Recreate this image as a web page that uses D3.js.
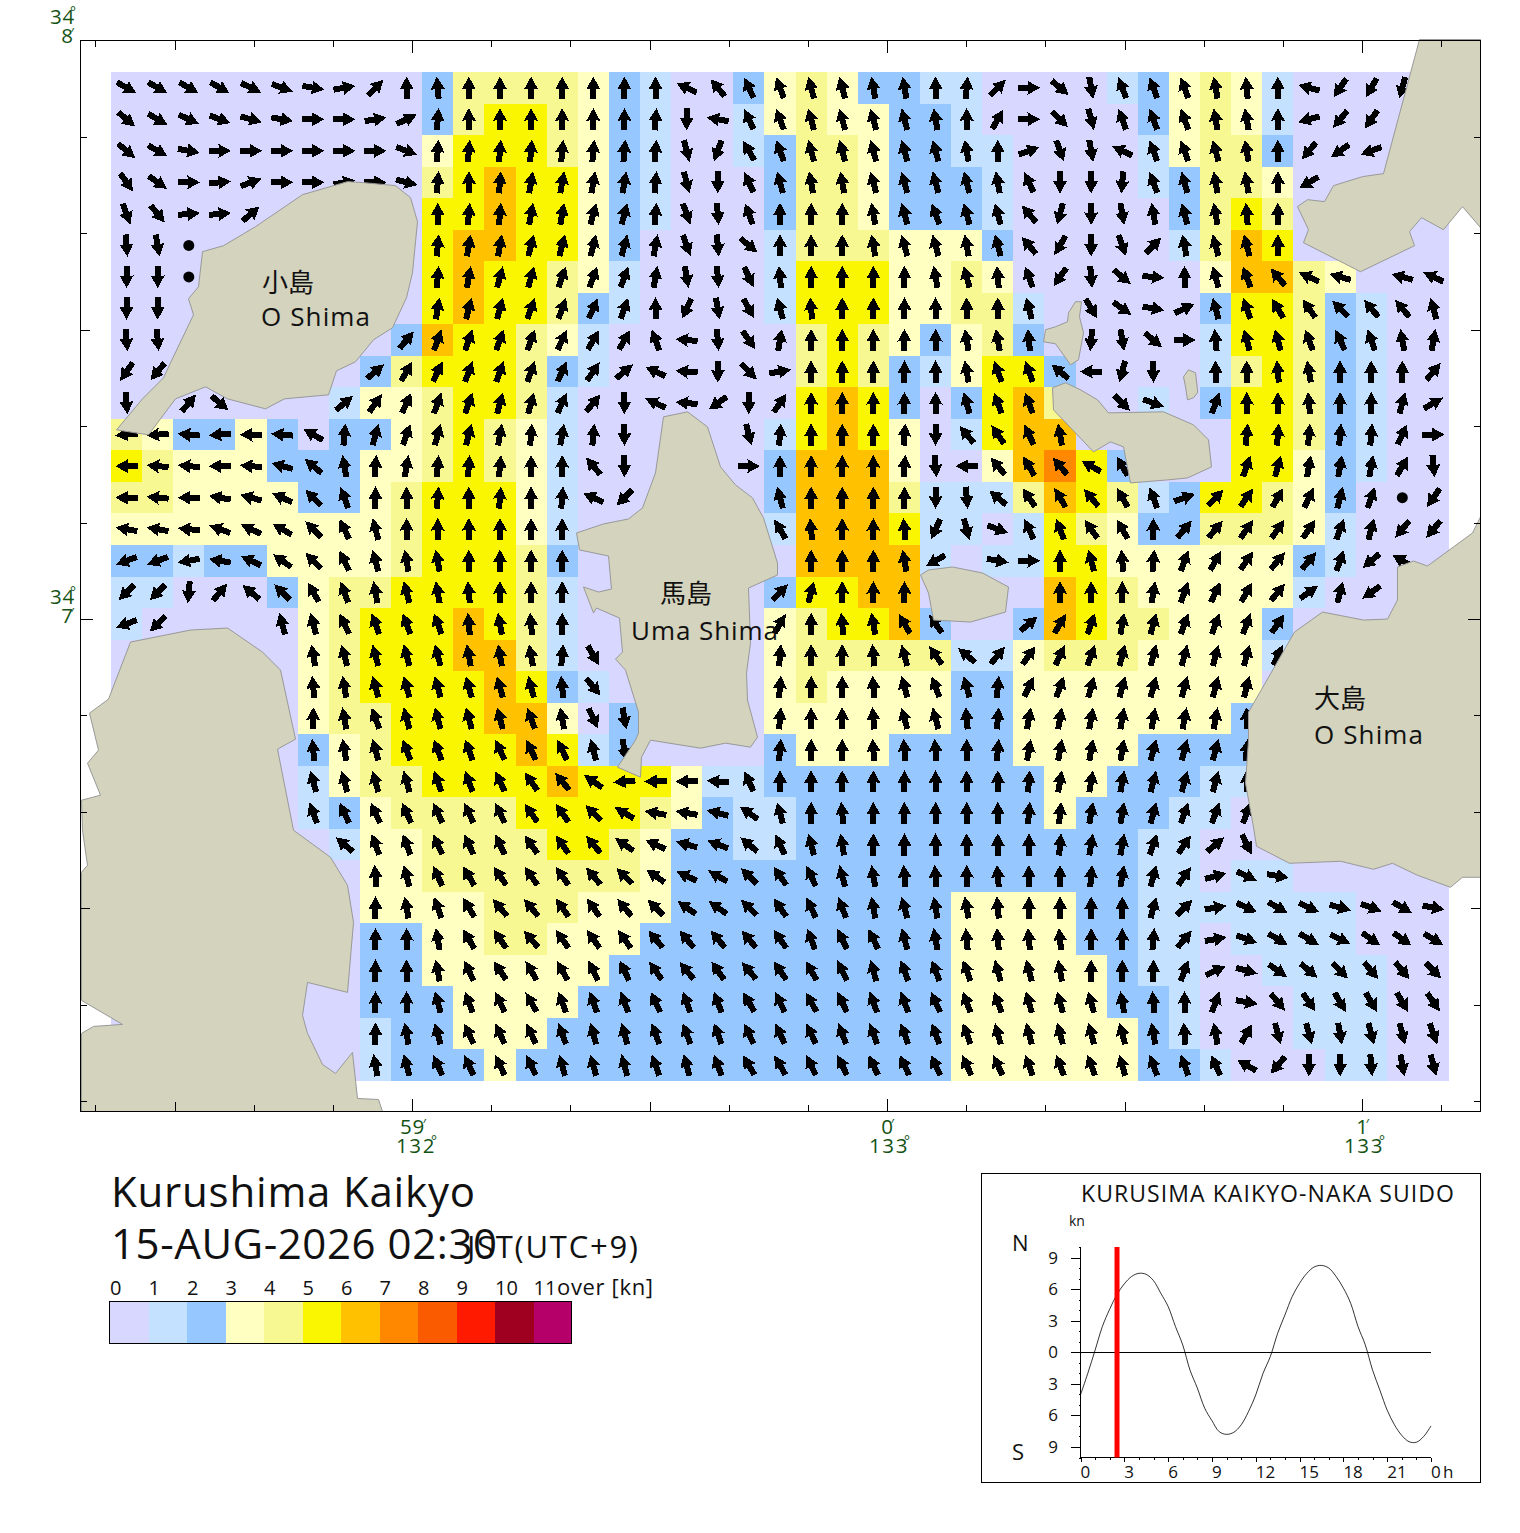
<!DOCTYPE html>
<html>
<head>
<meta charset="utf-8">
<title>Kurushima Kaikyo</title>
<script src="https://d3js.org/d3.v7.min.js"></script>
<style>
  body {margin:0; background:white;}
  svg {display:block;}
  text {font-family:"Open Sans","Noto Sans CJK JP",sans-serif; fill:#111;}
  .geo {fill:#145214;}
</style>
</head>
<body>
<svg id="chart" width="1520" height="1533"></svg>
<script>
// speed class of each cell, 43 columns, 32 rows (spaces only for reading)
const speedRows = [
  "0000000000 2444432100 2343221100 0012343100 000",
  "0000000000 2455432100 1343322100 0002343100 000",
  "0000000000 3555432100 1244322110 0001344200 000",
  "0000000000 4565532100 0244322210 0001244300 000",
  "0000000000 5565532100 0244322210 0000245400 000",
  "0000000000 5665532000 0144433320 0000146500 000",
  "0000000000 5655431000 0155533430 0000036643 000",
  "0000000000 5655421000 0155533441 0000025542 100",
  "0000000002 6554310000 0045432342 0000015542 100",
  "0000000024 5554210000 0045421355 2000014542 100",
  "0000000133 4554100000 0056520256 4001025542 100",
  "4322320223 4543100000 0156530156 6000005542 100",
  "5433322233 4543100000 0266630036 7520005532 100",
  "4433332234 5553100000 0266641114 6541255432 000",
  "3333333334 5553100000 0166651101 5432244431 000",
  "2212233334 5554200000 0066661011 5533333321 000",
  "1100023445 5554100000 0255660000 6543333310 000",
  "1000003455 5654100000 0345562002 6544333200 000",
  "0000003455 5664100000 0344444113 4443333100 000",
  "0000003455 5565210000 0343333223 3333333000 000",
  "0000003445 5566302000 0333333223 3333332000 000",
  "0000002345 5556512000 0233322223 3332222000 000",
  "0000001344 5555655531 1222222222 3322211000 000",
  "0000001234 4445555432 1122222222 3222110000 000",
  "0000000133 4444554322 1122222222 2221100000 000",
  "0000000033 4444444322 2222222222 2221101100 000",
  "0000000033 3344433322 2222222333 3221111111 000",
  "0000000022 3344333222 2222222333 3221101111 000",
  "0000000022 3333332222 2222222333 3321100111 100",
  "0000000022 2333322222 2222222333 3322100011 100",
  "0000000012 2333222222 2222222333 3332100011 100",
  "0000000012 2232222222 2222222333 3332210001 100"
]

// flow direction in degrees from north, -1 no arrow, -2 slack water dot
const directionRows = [
  [120,120,120,120,115,110,100,80,45,0, 355,0,0,0,0,0,0,0,295,320, 335,340,345,345,350,350,0,5,45,90, 130,170,340,340,340,350,355,0,285,215, 210,195,-1],
  [130,120,115,110,105,100,90,90,80,65, 5,0,0,0,0,0,0,5,180,280, 335,340,345,345,345,345,350,0,30,90, 135,165,340,340,340,350,350,0,255,220, 215,-1,-1],
  [130,120,100,90,90,90,90,90,90,110, 5,5,5,5,5,5,5,5,165,200, 330,340,345,345,345,345,345,350,0,70, 160,170,295,340,340,345,350,0,220,235, 250,-1,-1],
  [145,125,90,85,70,90,90,80,90,105, 5,0,5,10,10,10,10,5,165,180, 335,345,350,350,345,345,345,345,350,335, 180,180,185,340,345,350,350,0,240,-1, -1,-1,-1],
  [160,140,85,85,50,-1,-1,-1,-1,-1, 0,5,5,10,10,15,15,5,160,175, 340,0,0,0,350,345,340,345,345,320, 195,180,170,350,345,350,355,0,-1,-1, -1,-1,-1],
  [175,170,-2,-1,-1,-1,-1,-1,-1,-1, 5,10,10,15,15,15,15,10,160,175, 130,0,0,0,350,345,345,350,345,320, 210,180,160,45,350,345,345,0,-1,-1, -1,-1,-1],
  [180,180,-2,-1,-1,-1,-1,-1,-1,-1, 5,10,15,15,20,20,20,10,170,175, 155,355,0,0,0,0,350,345,355,340, 215,175,130,95,0,345,340,320,295,285, -1,285,295],
  [180,180,-1,-1,-1,-1,-1,-1,-1,-1, 10,15,15,20,20,25,20,0,205,170, 150,345,355,0,0,0,0,0,0,345, -1,150,125,100,65,345,340,330,325,315, 320,320,345],
  [175,175,-1,-1,-1,-1,-1,-1,-1,40, 20,20,20,20,25,30,30,340,275,175, 145,10,0,0,0,0,0,350,350,355, -1,185,170,130,90,355,345,345,340,335, 340,350,10],
  [215,220,-1,-1,-1,-1,-1,-1,50,30, 25,20,20,20,25,35,50,295,275,180, 135,80,0,0,0,0,0,350,340,340, 310,270,195,180,-1,0,0,355,350,0, 0,0,40],
  [175,-1,40,130,-1,-1,-1,50,35,25, 20,20,15,15,25,40,180,295,275,235, 180,35,0,0,0,0,0,345,340,340, -1,-1,135,110,-1,20,0,0,355,0, 0,15,60],
  [265,265,275,265,270,275,300,5,15,20, 15,15,10,5,10,5,180,-1,-1,-1, 165,5,0,0,0,5,180,320,325,335, 350,-1,-1,-1,-1,-1,5,5,5,5, 5,25,90],
  [270,275,275,270,275,285,310,350,5,10, 5,5,5,0,0,320,180,-1,-1,-1, 90,0,0,0,0,5,175,270,320,330, 320,300,330,-1,-1,-1,20,15,10,10, 10,30,175],
  [270,275,270,280,285,295,315,340,0,0, 5,0,5,0,5,295,225,-1,-1,-1, -1,345,0,0,0,0,180,175,310,325, 330,320,330,340,70,45,35,30,25,15, 20,-2,215],
  [280,280,275,290,295,300,315,335,345,0, 0,0,0,0,0,-1,-1,-1,-1,-1, -1,330,355,0,0,355,205,165,110,335, 340,325,330,0,40,40,35,35,35,20, 15,220,220],
  [250,250,260,280,295,305,315,335,345,350, 350,0,0,0,0,-1,-1,-1,-1,-1, -1,-1,0,0,0,350,240,-1,100,90, 0,345,355,5,20,30,35,40,40,20, 230,300,-1],
  [225,225,185,40,310,315,330,340,350,345, 350,355,0,0,0,-1,-1,-1,-1,-1, -1,45,15,0,0,0,-1,-1,-1,-1, 0,0,0,10,20,25,30,40,55,15, 235,-1,-1],
  [250,225,-1,-1,-1,345,345,335,340,340, 340,355,350,355,0,-1,-1,-1,-1,-1, -1,30,0,355,350,330,325,-1,-1,50, 30,20,10,15,20,20,20,35,-1,-1, -1,-1,-1],
  [-1,-1,-1,-1,-1,-1,350,345,345,345, 345,350,350,350,5,150,-1,-1,-1,-1, -1,5,0,0,355,345,325,310,40,35, 25,20,15,15,15,15,15,25,-1,-1, -1,-1,-1],
  [-1,-1,-1,-1,-1,-1,355,350,345,345, 345,345,345,345,355,140,-1,-1,-1,-1, -1,5,0,0,355,345,340,345,5,25, 20,15,15,15,15,15,15,-1,-1,-1, -1,-1,-1],
  [-1,-1,-1,-1,-1,-1,0,350,340,345, 345,345,345,340,350,155,170,-1,-1,-1, -1,5,0,0,355,345,345,355,5,10, 10,10,10,10,10,10,0,-1,-1,-1, -1,-1,-1],
  [-1,-1,-1,-1,-1,-1,355,350,345,340, 340,340,335,335,335,345,170,-1,-1,-1, -1,5,0,0,355,355,355,0,5,10, 10,10,10,15,15,15,5,-1,-1,-1, -1,-1,-1],
  [-1,-1,-1,-1,-1,-1,345,345,345,345, 340,340,335,325,320,305,265,270,270,275, 335,0,0,0,0,0,0,0,0,5, 10,10,10,15,15,15,0,-1,-1,-1, -1,-1,-1],
  [-1,-1,-1,-1,-1,-1,340,335,335,335, 335,335,335,325,325,315,300,280,280,285, 305,345,0,355,0,0,0,0,0,5, 5,10,10,15,20,20,20,-1,-1,-1, -1,-1,-1],
  [-1,-1,-1,-1,-1,-1,-1,310,340,340, 335,335,335,325,325,320,305,295,285,290, 310,335,345,350,0,0,0,0,0,0, 5,10,10,20,35,50,155,-1,-1,-1, -1,-1,-1],
  [-1,-1,-1,-1,-1,-1,-1,-1,355,345, 335,330,325,325,325,320,315,305,295,300, 315,325,335,345,350,355,355,0,355,0, 0,5,10,15,35,75,115,100,-1,-1, -1,-1,-1],
  [-1,-1,-1,-1,-1,-1,-1,-1,0,350, 340,330,320,320,325,325,320,315,305,305, 315,325,335,340,350,345,350,350,355,0, 0,0,0,15,45,80,115,120,115,105, 110,120,100],
  [-1,-1,-1,-1,-1,-1,-1,-1,0,0, 350,330,325,320,325,325,325,320,320,320, 320,325,340,335,335,345,350,355,355,355, 355,0,0,5,40,80,110,120,120,115, 125,125,120],
  [-1,-1,-1,-1,-1,-1,-1,-1,0,0, 350,335,325,330,330,335,335,325,320,325, 320,325,330,335,345,340,340,340,345,345, 350,0,0,0,20,65,105,125,130,135, 140,140,135],
  [-1,-1,-1,-1,-1,-1,-1,-1,0,0, 345,340,335,330,340,340,340,335,340,340, 330,335,330,335,340,340,335,340,340,345, 345,345,350,355,0,20,100,140,145,150, 150,150,145],
  [-1,-1,-1,-1,-1,-1,-1,-1,0,350, 345,335,335,335,340,345,345,340,340,340, 335,335,335,340,340,340,340,340,345,345, 345,345,345,350,355,350,30,165,165,170, 165,165,160],
  [-1,-1,-1,-1,-1,-1,-1,-1,350,345, 335,335,335,335,345,345,345,340,345,340, 330,330,335,335,335,335,335,335,335,340, 340,340,345,340,340,335,300,220,180,180, 175,170,165]
]

const speedColors = ["#d7d7ff","#c4e1ff","#96c8ff","#ffffc1","#f8f893","#faf500","#ffc100","#ff8800","#fa5a00","#ff1a00","#a00020","#b40068"]
const speedLabels = ["0","1","2","3","4","5","6","7","8","9","10","11"]

// land outlines, in map units
const oShimaSmall = [[347,182],[363,183],[395,186],[410,198],[417,222],[412,273],[406,298],[392,328],[373,340],[355,362],[336,371],[328,395],[284,399],[265,409],[227,399],[205,387],[175,399],[148,435],[116,430],[142,399],[163,378],[170,363],[193,315],[188,299],[198,287],[202,252],[223,246],[255,227],[302,195]]
const umaShima = [[687,412],[663,417],[655,473],[642,508],[628,519],[603,524],[576,533],[579,550],[608,556],[611,589],[598,592],[583,587],[593,613],[596,608],[619,618],[622,652],[615,659],[625,670],[638,712],[638,733],[635,740],[617,767],[640,777],[641,757],[650,740],[700,748],[725,743],[750,747],[757,737],[747,700],[746,673],[750,643],[748,588],[777,575],[777,563],[763,518],[752,498],[735,485],[720,467],[707,427]]
const isletCentre = [[920,575],[928,570],[952,567],[982,573],[1008,587],[1005,612],[970,622],[933,620],[928,593]]
const isletNorth = [[1081,302],[1075,302],[1068,313],[1067,322],[1055,327],[1045,330],[1043,342],[1055,344],[1070,365],[1078,360],[1083,333],[1079,317]]
const isletSmall = [[1188,370],[1183,377],[1185,387],[1187,400],[1193,398],[1197,393],[1197,390],[1195,373]]
const islandEast = [[1052,388],[1053,410],[1093,452],[1110,442],[1123,447],[1130,483],[1167,480],[1187,478],[1211,467],[1208,440],[1193,425],[1163,412],[1108,413],[1097,400],[1080,390],[1065,383]]
const landNorthEast = [[1419,40],[1383,174],[1362,177],[1333,186],[1324,202],[1307,200],[1297,207],[1308,230],[1303,243],[1360,272],[1414,246],[1409,232],[1421,218],[1443,230],[1462,207],[1480,228],[1480,40]]
const oShimaBig = [[1480,517],[1472,533],[1427,566],[1413,561],[1397,567],[1397,600],[1387,619],[1363,620],[1322,612],[1294,632],[1248,712],[1248,740],[1245,783],[1253,827],[1256,846],[1289,863],[1340,861],[1373,869],[1392,863],[1417,875],[1450,887],[1462,877],[1480,877]]
const landSouthWest = [[130,642],[190,630],[227,628],[262,652],[280,670],[295,739],[277,749],[293,830],[330,857],[347,885],[353,922],[347,992],[307,982],[302,1015],[307,1033],[322,1064],[335,1073],[352,1052],[357,1098],[378,1099],[382,1111],[81,1111],[81,1033],[93,1026],[122,1024],[81,1000],[81,872],[87,865],[82,830],[81,800],[100,795],[87,763],[98,750],[89,713],[108,699]]
const landShapes = [oShimaSmall, umaShima, isletCentre, isletNorth, isletSmall, islandEast, landNorthEast, oShimaBig, landSouthWest]

// tidal stream at the station, one value every half hour from 0h to 24h
const tideHours = d3.range(0, 24.5, 0.5)
const tideKnots = [-4.05,-2.0,0.2,2.45,4.1,5.5,6.5,7.2,7.5,7.4,6.8,5.6,4.35,2.45,0.7,-1.7,-3.4,-5.3,-6.5,-7.55,-7.8,-7.6,-6.9,-5.65,-4.05,-2.0,-0.4,1.8,3.55,5.3,6.55,7.5,8.1,8.25,8.0,7.2,6.1,4.65,2.45,0.7,-1.7,-3.6,-5.5,-6.9,-7.9,-8.5,-8.55,-8.0,-7.0]
const nowHour = 2.5
const tideHourLabels = ["0","3","6","9","12","15","18","21","0"]
const tideKnotTicks = [9,6,3,0,-3,-6,-9]

const svg = d3.select("#chart")

// grid scales and map scales
const col = d3.scaleLinear([0, 43], [111, 1449])
const row = d3.scaleLinear([0, 32], [72, 1081])
const mapX = d3.scaleLinear([80, 1480], [80.5, 1480.5])
const mapY = d3.scaleLinear([41, 1111], [40.5, 1111.5])
// minutes of longitude from 133E, minutes of latitude from 34-07N
const lon = d3.scaleLinear([-1, 0, 1], [412, 887, 1362])
const lat = d3.scaleLinear([0, 1], [619, 40.6])

const cells = []
speedRows.forEach((r, j) => {
  r.replace(/ /g, "").split("").forEach((s, i) => {
    cells.push({i: i, j: j, speed: +s, dir: directionRows[j][i]})
  })
})

svg.append("g").attr("shape-rendering", "crispEdges")
  .selectAll("rect").data(cells).join("rect")
    .attr("x", d => Math.round(col(d.i)))
    .attr("y", d => Math.round(row(d.j)))
    .attr("width", d => Math.round(col(d.i + 1)) - Math.round(col(d.i)))
    .attr("height", d => Math.round(row(d.j + 1)) - Math.round(row(d.j)))
    .attr("fill", d => speedColors[d.speed])

// arrow glyph, tip up, centred on the cell
const arrowGlyph = "M0,-11.2 L7,1.5 L3,1 L3,11 L-3,11 L-3,1 L-7,1.5 Z"
svg.append("g").attr("shape-rendering", "crispEdges")
  .selectAll("path").data(cells.filter(d => d.dir >= 0)).join("path")
    .attr("d", arrowGlyph)
    .attr("fill", "#000")
    .attr("transform", d => "translate(" + col(d.i + 0.5) + "," + row(d.j + 0.5) + ") rotate(" + d.dir + ")")

svg.append("g").selectAll("circle").data(cells.filter(d => d.dir == -2)).join("circle")
    .attr("cx", d => col(d.i + 0.5))
    .attr("cy", d => row(d.j + 0.5))
    .attr("r", 5.5)
    .attr("fill", "#000")

const landLine = d3.line().x(d => mapX(d[0])).y(d => mapY(d[1]))
svg.append("g").selectAll("path").data(landShapes).join("path")
    .attr("d", d => landLine(d) + "Z")
    .attr("fill", "#d4d3bd")
    .attr("stroke", "#999")
    .attr("stroke-width", 1)

// frame and ticks
svg.append("rect").attr("x", 80.5).attr("y", 40.5).attr("width", 1400).attr("height", 1071)
  .attr("fill", "none").attr("stroke", "#000").attr("stroke-width", 1)

function tickLen(sixths) {
  if (sixths % 6 == 0) return 12
  if (sixths % 3 == 0) return 9
  return 6
}
const tickG = svg.append("g").attr("stroke", "#000").attr("stroke-width", 1).attr("shape-rendering", "crispEdges")
d3.range(-10, 8).forEach(k => {
  const x = Math.round(lon(k / 6)) + 0.5
  if (x < 81 || x > 1480) return
  tickG.append("line").attr("x1", x).attr("x2", x).attr("y1", 41).attr("y2", 41 + tickLen(k))
  tickG.append("line").attr("x1", x).attr("x2", x).attr("y1", 1111).attr("y2", 1111 - tickLen(k))
})
d3.range(-5, 6).forEach(k => {
  const y = Math.round(lat(k / 6)) + 0.5
  tickG.append("line").attr("y1", y).attr("y2", y).attr("x1", 81).attr("x2", 81 + tickLen(k))
  tickG.append("line").attr("y1", y).attr("y2", y).attr("x1", 1480).attr("x2", 1480 - tickLen(k))
})

function label(x, y, str, size, anchor, cls) {
  return svg.append("text").attr("x", x).attr("y", y).text(str)
    .attr("font-size", size).attr("text-anchor", anchor || "start").attr("class", cls || null)
}

// same but stretched to the width the text has on the chart
function wideLabel(x, y, str, size, width) {
  return label(x, y, str, size).attr("textLength", width).attr("lengthAdjust", "spacing")
}

// lat and lon labels, the degree and minute marks sit on top of the digit
function geoLabel(x, y, main, mark) {
  label(x, y, main, 20.5, "end", "geo").attr("letter-spacing", main.length > 2 ? 1.6 : main.length > 1 ? 0.8 : 0)
  label(x + 1, y - (mark == "°" ? 7 : 5), mark, 14, "end", "geo")
}
geoLabel(75, 24, "34", "°")
geoLabel(73, 43, "8", "′")
geoLabel(75, 604, "34", "°")
geoLabel(73, 623, "7", "′")
geoLabel(425, 1134, "59", "′")
geoLabel(436, 1153, "132", "°")
geoLabel(893, 1134, "0", "′")
geoLabel(909, 1153, "133", "°")
geoLabel(1368, 1134, "1", "′")
geoLabel(1384, 1153, "133", "°")

// island names
label(262, 292, "小島", 26)
wideLabel(261, 326, "O Shima", 26, 109)
label(660, 603, "馬島", 26)
wideLabel(631, 640, "Uma Shima", 26, 147)
label(1314, 708, "大島", 26)
wideLabel(1314, 744, "O Shima", 26, 109)

// title block
wideLabel(111, 1207, "Kurushima Kaikyo", 42, 364)
wideLabel(111, 1259, "15-AUG-2026 02:30", 42, 386)
wideLabel(467, 1258, "JST(UTC+9)", 31, 171)

// speed legend
const legendX = d3.scaleLinear([0, 12], [110, 572])
svg.append("g").attr("shape-rendering", "crispEdges")
  .selectAll("rect").data(speedColors).join("rect")
    .attr("x", (d, i) => legendX(i))
    .attr("y", 1302)
    .attr("width", legendX(1) - legendX(0))
    .attr("height", 41)
    .attr("fill", d => d)
svg.append("rect").attr("x", 109.5).attr("y", 1301.5).attr("width", 462).attr("height", 42)
  .attr("fill", "none").attr("stroke", "#000").attr("shape-rendering", "crispEdges")
speedLabels.forEach((s, i) => label(legendX(i), 1295, s, 20))
wideLabel(557, 1295, "over [kn]", 22, 96)

// tide panel
svg.append("rect").attr("x", 981.5).attr("y", 1173.5).attr("width", 499).attr("height", 309)
  .attr("fill", "none").attr("stroke", "#000").attr("shape-rendering", "crispEdges")
wideLabel(1081, 1202, "KURUSIMA KAIKYO-NAKA SUIDO", 23, 373)
label(1069, 1226, "kn", 14)
label(1012, 1251, "N", 22)
label(1012, 1460, "S", 22)

const tideX = d3.scaleLinear([0, 24], [1080.5, 1431])
const tideY = d3.scaleLinear([-10, 10], [1457.5, 1247])

const tideG = svg.append("g").attr("stroke", "#000").attr("shape-rendering", "crispEdges")
tideG.append("line").attr("x1", tideX(0)).attr("x2", tideX(0)).attr("y1", tideY(10)).attr("y2", tideY(-10))
tideG.append("line").attr("x1", tideX(0)).attr("x2", tideX(24)).attr("y1", tideY(-10)).attr("y2", tideY(-10))
tideG.append("line").attr("x1", tideX(0) - 10).attr("x2", tideX(24)).attr("y1", tideY(0)).attr("y2", tideY(0))
d3.range(-10, 11).forEach(k => {
  const len = k % 3 == 0 ? 10 : 2
  tideG.append("line").attr("x1", tideX(0) - len).attr("x2", tideX(0))
    .attr("y1", Math.round(tideY(k)) + 0.5).attr("y2", Math.round(tideY(k)) + 0.5)
})
d3.range(0, 25).forEach(h => {
  const len = h % 3 == 0 ? 4 : 2
  tideG.append("line").attr("y1", tideY(-10)).attr("y2", tideY(-10) + len)
    .attr("x1", Math.round(tideX(h)) + 0.5).attr("x2", Math.round(tideX(h)) + 0.5)
})

tideKnotTicks.forEach(k => label(1053, tideY(k) + 6, Math.abs(k), 17, "middle"))
tideHourLabels.forEach((s, i) => label(tideX(i * 3), 1478, s, 17))
label(1443, 1478, "h", 17)

svg.append("path")
    .attr("d", d3.line().curve(d3.curveCatmullRom).x((d, i) => tideX(tideHours[i])).y(d => tideY(d))(tideKnots))
    .attr("fill", "none").attr("stroke", "#000").attr("stroke-width", 0.8)

svg.append("rect")
    .attr("x", tideX(nowHour) - 2.5).attr("y", tideY(10))
    .attr("width", 5).attr("height", tideY(-10) - tideY(10))
    .attr("fill", "#ff0000")
</script>
</body>
</html>
